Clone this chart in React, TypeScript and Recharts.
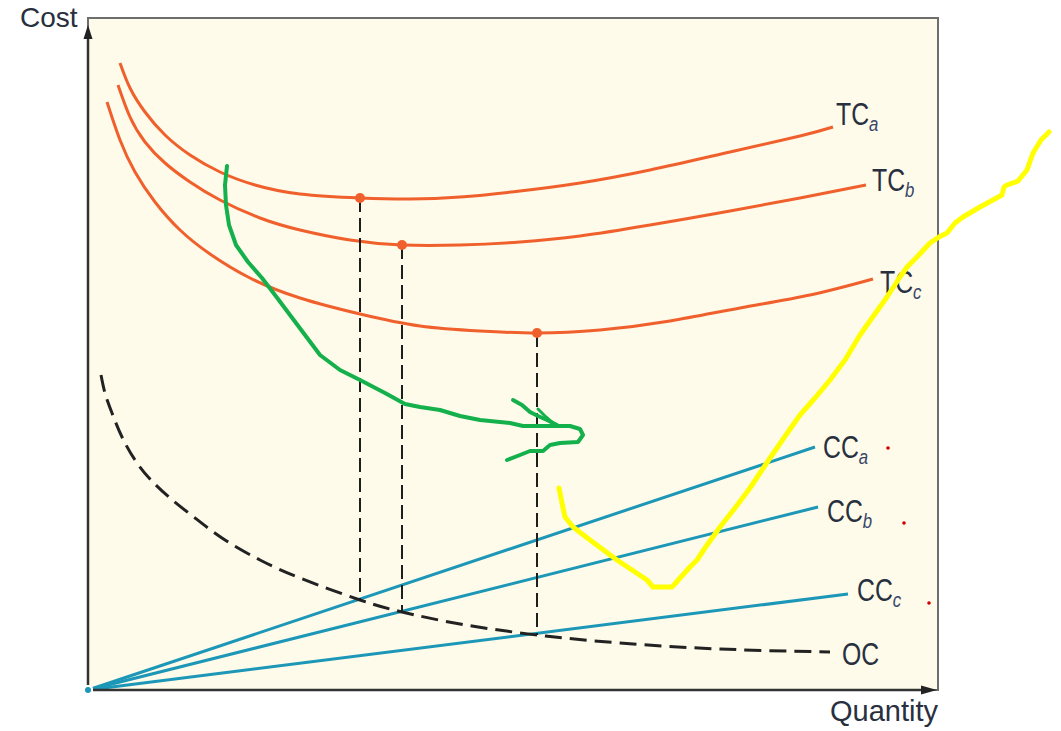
import {
  ComposedChart,
  Line,
  XAxis,
  YAxis,
  ReferenceArea,
  ReferenceLine,
  ReferenceDot,
} from "recharts";

// quantity / cost units, origin at the corner of the axes
type Pt = { x: number; y: number };
const pts = (rows: number[][]): Pt[] => rows.map(([x, y]) => ({ x, y }));

const tcA = pts([
  [32, 627], [42, 602], [57, 578], [77, 555], [102, 535], [132, 518],
  [167, 505], [212, 496], [272, 492], [322, 491], [372, 493], [432, 499],
  [492, 507], [562, 520], [642, 538], [712, 554], [745, 563],
]);
const tcB = pts([
  [30, 605], [42, 573], [57, 548], [77, 527], [102, 508], [132, 490],
  [172, 472], [212, 460], [262, 450], [314, 445], [372, 445], [432, 448],
  [492, 454], [562, 465], [642, 479], [712, 492], [778, 505],
]);
const tcC = pts([
  [19, 588], [32, 550], [47, 518], [67, 488], [92, 460], [122, 436],
  [162, 412], [212, 392], [272, 376], [332, 364], [392, 359], [449, 357],
  [512, 360], [582, 369], [652, 382], [722, 395], [785, 411],
]);
const ccA = pts([[0, 0], [727, 243]]);
const ccB = pts([[0, 0], [730, 183]]);
const ccC = pts([[0, 0], [760, 96]]);
const oc = pts([
  [13, 315], [17, 297], [24, 277], [34, 253], [47, 230], [62, 211],
  [82, 192], [107, 172], [137, 150], [172, 130], [212, 112], [272, 90],
  [314, 78], [372, 66], [449, 55], [532, 47], [632, 41], [742, 38],
]);
// minimum points of the TC curves, dropped down to OC
const minPoints = [
  { x: 272, top: 492, bottom: 90 },
  { x: 314, top: 445, bottom: 78 },
  { x: 449, top: 357, bottom: 55 },
];

// hand-drawn annotations
const greenStroke = pts([
  [139, 524], [137, 505], [138, 485], [141, 465], [148, 445], [160, 428],
  [174, 412], [187, 395], [202, 375], [217, 355], [232, 335], [252, 320],
  [272, 310], [297, 297], [317, 286], [332, 283], [352, 280], [372, 274],
  [392, 270], [422, 267], [435, 264], [482, 264], [492, 261], [495, 255],
  [490, 248], [472, 247], [462, 245], [455, 239], [442, 239], [432, 235],
  [419, 230],
]);
const greenTipA = pts([
  [425, 290], [434, 285], [442, 278], [450, 274], [459, 270], [469, 265],
]);
const greenTipB = pts([[450, 281], [458, 273], [466, 266]]);
const yellowStroke = pts([
  [961, 558], [953, 550], [945, 537], [939, 520], [930, 509], [919, 505],
  [916, 503], [914, 495], [892, 483], [875, 473], [867, 467], [859, 457],
  [851, 453], [842, 447], [829, 433], [819, 423], [812, 413], [799, 393],
  [784, 372], [772, 355], [757, 330], [742, 310], [727, 292], [712, 275],
  [700, 258], [682, 232], [662, 202], [647, 182], [632, 163], [617, 142],
  [609, 130], [602, 123], [584, 103], [565, 103], [559, 110], [529, 130],
  [502, 150], [485, 163], [477, 173], [474, 187], [471, 202],
]);
const redDots = pts([[800, 242], [816, 167], [841, 87]]);

const curveLabels = [
  { main: "TC", sub: "a", x: 748, y: 565 },
  { main: "TC", sub: "b", x: 784, y: 499 },
  { main: "TC", sub: "c", x: 792, y: 397 },
  { main: "CC", sub: "a", x: 735, y: 232 },
  { main: "CC", sub: "b", x: 739, y: 168 },
  { main: "CC", sub: "c", x: 769, y: 89 },
  { main: "OC", sub: "", x: 754, y: 25 },
];

const ORANGE = "#f0602c";
const TEAL = "#1c97b7";
const INK = "#283040";

const curveLabel = (main: string, sub: string) => (p: any) =>
  (
    <text
      transform={`translate(${p.cx},${p.cy}) scale(0.8,1)`}
      fontFamily="Liberation Sans, Arial, sans-serif"
      fontSize={31}
      fill={INK}
    >
      <tspan>{main}</tspan>
      {sub && (
        <tspan fontSize={21} fontStyle="italic" dy={6} fill="#3a4668">
          {sub}
        </tspan>
      )}
    </text>
  );

const axisText = (t: string, size: number) => (p: any) =>
  (
    <text
      x={p.cx}
      y={p.cy}
      fontFamily="Liberation Sans, Arial, sans-serif"
      fontSize={size}
      fill={INK}
    >
      {t}
    </text>
  );

export default function App() {
  return (
    <div style={{ position: "absolute", left: 0, top: 0, background: "#fff" }}>
      <ComposedChart
        width={1061}
        height={731}
        margin={{ top: 0, right: 0, bottom: 0, left: 0 }}
      >
        <XAxis type="number" dataKey="x" domain={[-88, 973]} hide />
        <YAxis type="number" dataKey="y" domain={[-41, 690]} hide />

        <ReferenceArea
          x1={0}
          x2={850}
          y1={0}
          y2={672}
          fill="#fefbea"
          fillOpacity={1}
          stroke="#6e6e6e"
          strokeWidth={2}
          zIndex={-50}
        />

        <Line data={tcA} dataKey="y" type="natural" stroke={ORANGE} strokeWidth={3} dot={false} isAnimationActive={false} />
        <Line data={tcB} dataKey="y" type="natural" stroke={ORANGE} strokeWidth={3} dot={false} isAnimationActive={false} />
        <Line data={tcC} dataKey="y" type="natural" stroke={ORANGE} strokeWidth={3} dot={false} isAnimationActive={false} />
        <Line data={ccA} dataKey="y" type="linear" stroke={TEAL} strokeWidth={3} dot={false} isAnimationActive={false} />
        <Line data={ccB} dataKey="y" type="linear" stroke={TEAL} strokeWidth={3} dot={false} isAnimationActive={false} />
        <Line data={ccC} dataKey="y" type="linear" stroke={TEAL} strokeWidth={3} dot={false} isAnimationActive={false} />
        <Line data={oc} dataKey="y" type="natural" stroke="#222" strokeWidth={3} strokeDasharray="17 8" dot={false} isAnimationActive={false} />

        {minPoints.map((m, i) => (
          <ReferenceLine
            key={"v" + i}
            segment={[{ x: m.x, y: m.top }, { x: m.x, y: m.bottom }]}
            stroke="#1e1e1e"
            strokeWidth={2}
            strokeDasharray="14 6"
          />
        ))}
        {minPoints.map((m, i) => (
          <ReferenceDot key={"d" + i} x={m.x} y={m.top} r={5} fill={ORANGE} stroke="none" />
        ))}

        {/* axes */}
        <ReferenceLine segment={[{ x: 0, y: 0 }, { x: 0, y: 660 }]} stroke="#333" strokeWidth={2.5} />
        <ReferenceLine segment={[{ x: 0, y: 0 }, { x: 840, y: 0 }]} stroke="#333" strokeWidth={2.5} />
        <ReferenceDot
          x={0}
          y={665}
          shape={(p: any) => (
            <polygon points={`${p.cx},${p.cy} ${p.cx - 4.5},${p.cy + 14} ${p.cx + 4.5},${p.cy + 14}`} fill="#222" />
          )}
        />
        <ReferenceDot
          x={849}
          y={0}
          shape={(p: any) => (
            <polygon points={`${p.cx},${p.cy} ${p.cx - 16},${p.cy - 4.5} ${p.cx - 16},${p.cy + 4.5}`} fill="#222" />
          )}
        />
        <ReferenceDot x={-68} y={663} shape={axisText("Cost", 28)} />
        <ReferenceDot x={742} y={-31} shape={axisText("Quantity", 29)} />

        {curveLabels.map((l, i) => (
          <ReferenceDot key={"l" + i} x={l.x} y={l.y} shape={curveLabel(l.main, l.sub)} />
        ))}

        {redDots.map((d, i) => (
          <ReferenceDot key={"r" + i} x={d.x} y={d.y} r={1.8} fill="#d00000" stroke="none" />
        ))}

        <Line data={greenStroke} dataKey="y" type="linear" stroke="#14b04c" strokeWidth={4} strokeLinecap="round" strokeLinejoin="round" dot={false} isAnimationActive={false} zIndex={1500} />
        <Line data={greenTipA} dataKey="y" type="linear" stroke="#14b04c" strokeWidth={4} strokeLinecap="round" strokeLinejoin="round" dot={false} isAnimationActive={false} zIndex={1500} />
        <Line data={greenTipB} dataKey="y" type="linear" stroke="#14b04c" strokeWidth={3} strokeLinecap="round" strokeLinejoin="round" dot={false} isAnimationActive={false} zIndex={1500} />
        <Line data={yellowStroke} dataKey="y" type="linear" stroke="#ffff00" strokeWidth={5} strokeLinecap="round" strokeLinejoin="round" dot={false} isAnimationActive={false} zIndex={1500} />
      </ComposedChart>
    </div>
  );
}
